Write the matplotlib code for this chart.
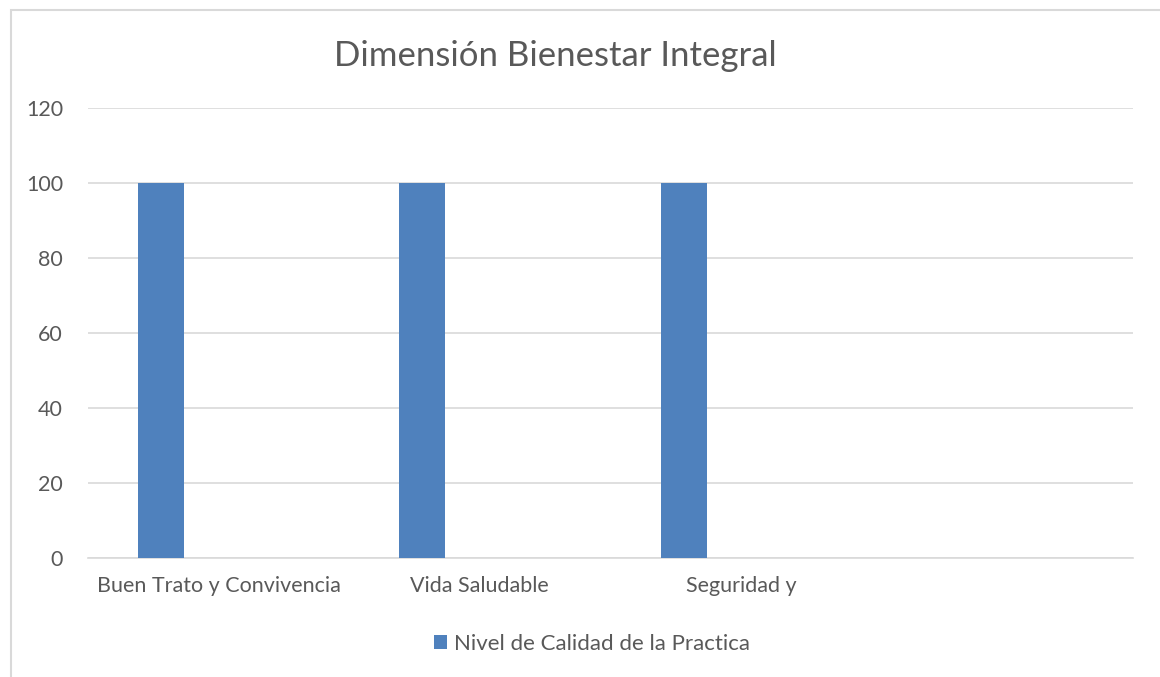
import matplotlib
matplotlib.use("Agg")
import matplotlib.pyplot as plt
from matplotlib.patches import Rectangle

# Datos del gráfico
categorias = ["Buen Trato y Convivencia", "Vida Saludable", "Seguridad y", ""]
valores = [100, 100, 100, 0]
serie = "Nivel de Calidad de la Practica"
yticks = [0, 20, 40, 60, 80, 100, 120]

plt.rcParams['font.family'] = ['Lato', 'DejaVu Sans']
gris_texto = "#595959"
gris_linea = "#d9d9d9"
azul = "#4f81bd"

fig = plt.figure(figsize=(11.6, 6.77), dpi=100)
ax = fig.add_axes([88 / 1160, 1 - 558 / 677, (1133 - 88) / 1160, (558 - 108) / 677])

# marco del gráfico
fig.patches.append(Rectangle((11 / 1160, -0.1), 1.2, 1 - 10 / 677 + 0.1,
                             transform=fig.transFigure, fill=False,
                             edgecolor=gris_linea, linewidth=1.5))

x = list(range(len(categorias)))
xb = [i - 0.22 for i in x]
ax.bar(xb, valores, width=0.176, color=azul, label=serie, zorder=3)

ax.set_xlim(-0.5, len(categorias) - 0.5)
ax.set_ylim(0, 120)
ax.set_yticks(yticks)
ax.set_xticks(x)
ax.set_xticklabels(categorias)
ax.grid(axis="y", color=gris_linea, linewidth=1.2, zorder=0)
for s in ["top", "right", "left"]:
    ax.spines[s].set_visible(False)
ax.spines["bottom"].set_color(gris_linea)
ax.spines["bottom"].set_linewidth(1.2)
ax.tick_params(axis="both", length=0, labelsize=15.5, colors=gris_texto)
ax.tick_params(axis="x", pad=13)
ax.tick_params(axis="y", pad=18)

fig.text(555 / 1160, 1 - 56 / 677, "Dimensión Bienestar Integral", ha="center", va="center",
         fontsize=25, color=gris_texto)

leg = fig.legend(loc="center", bbox_to_anchor=(0.51, 1 - 644 / 677), frameon=False,
                 fontsize=16, handlelength=0.6, handleheight=0.6, handletextpad=0.3)
for t in leg.get_texts():
    t.set_color(gris_texto)

fig.savefig("out.png", dpi=100)
